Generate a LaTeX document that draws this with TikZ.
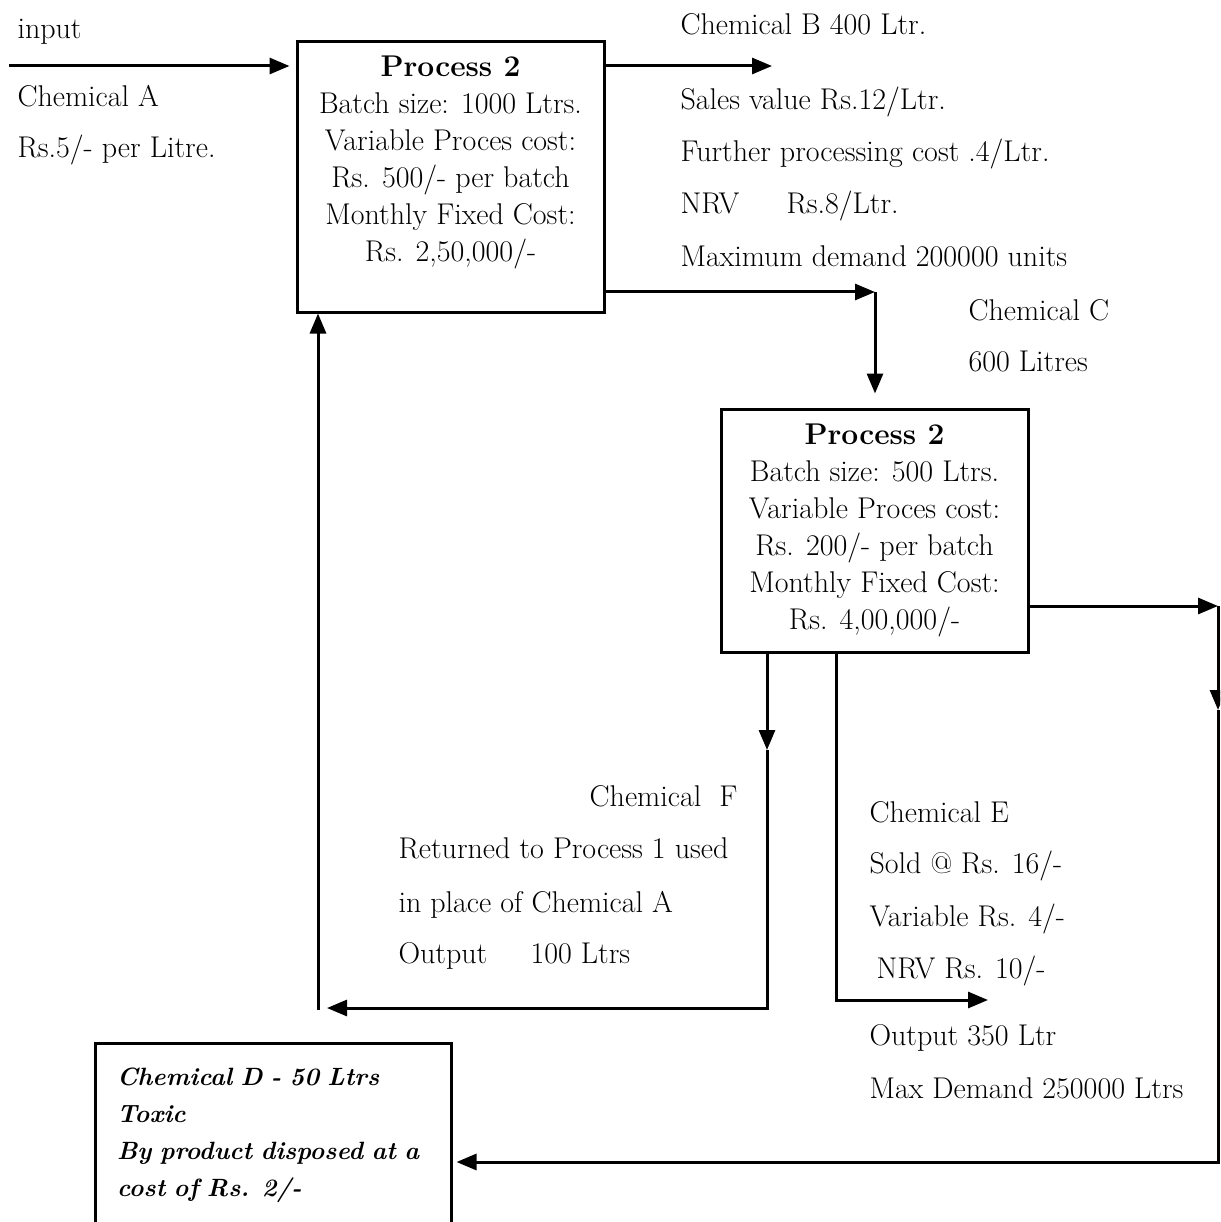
\documentclass[tikz,border=0pt]{standalone}
\usetikzlibrary{arrows.meta}
\begin{document}
\begin{tikzpicture}[x=1pt, y=-1pt, line width=3pt, font=\fontsize{30}{37}\selectfont,
        box/.style={draw, rectangle, inner sep=0pt, align=center},
        lbl/.style={anchor=base west, inner sep=0pt},
        flow/.style={-{Triangle[length=20pt, width=16pt]}}]
    \clip (0,0) rectangle (1220,1222);

    \node (ProcTop) [box, minimum width=307pt, minimum height=270pt] at(450.5,177) {\textbf{Process 2}\\Batch size: 1000 Ltrs.\\Variable Proces cost:\\Rs. 500/- per batch\\Monthly Fixed Cost:\\Rs. 2,50,000/-\\ \mbox{}};
    \node (ProcMid) [box, minimum width=307pt, minimum height=243pt] at(874.5,530.5) {\textbf{Process 2}\\Batch size: 500 Ltrs.\\Variable Proces cost:\\Rs. 200/- per batch\\Monthly Fixed Cost:\\Rs. 4,00,000/-};
    \node (Disposal) [box, align=left, text width=312pt, inner xsep=22pt, minimum height=184pt, font=\fontsize{25}{37}\selectfont\bfseries\itshape] at(273,1135) {Chemical D - 50 Ltrs\\Toxic\\By product disposed at a\\cost of Rs. 2/-};

    \node (Input) [lbl] at(16,39) {input};
    \node (ChemA) [lbl] at(16,107) {Chemical A};
    \node (RateA) [lbl] at(16,158) {Rs.5/- per Litre.};

    \node (ChemB) [lbl] at(679,35) {Chemical B 400 Ltr.};
    \node (SalesB) [lbl] at(679,110) {Sales value Rs.12/Ltr.};
    \node (FurtherB) [lbl] at(679,162) {Further processing cost .4/Ltr.};
    \node (NrvB) [lbl] at(679,214) {\makebox[106pt][l]{NRV}Rs.8/Ltr.};
    \node (DemandB) [lbl] at(679,267) {Maximum demand 200000 units};

    \node (ChemC) [lbl] at(967,320) {Chemical C};
    \node (LitresC) [lbl] at(967,371) {600 Litres};

    \node (ChemF) [lbl, anchor=base east] at(739,806) {Chemical\ \ F};
    \node (ReturnF) [lbl] at(397,858) {Returned to Process 1 used};
    \node (PlaceF) [lbl] at(397,912) {in place of Chemical A};
    \node (OutF) [lbl] at(397,963) {\makebox[132pt][l]{Output}100 Ltrs};

    \node (ChemE) [lbl] at(868,822) {Chemical E};
    \node (SoldE) [lbl] at(868,873) {Sold @ Rs. 16/-};
    \node (VarE) [lbl] at(868,926) {Variable Rs. 4/-};
    \node (NrvE) [lbl] at(875,978) {NRV Rs. 10/-};
    \node (OutE) [lbl] at(868,1045) {Output 350 Ltr};
    \node (DemandE) [lbl] at(868,1098) {Max Demand 250000 Ltrs};

    \coordinate (InStart) at (9,66);
    \coordinate (BEnd) at (772,66);
    \coordinate (CTurn) at (875,292);
    \coordinate (RTurn) at (1218,606);
    \coordinate (RMid) at (1218,710);
    \coordinate (DTurn) at (1218,1162);
    \coordinate (FMid) at (767,750);
    \coordinate (FTurn) at (767,1008);
    \coordinate (FEnd) at (327,1008);
    \coordinate (Back) at (318,1010);
    \coordinate (ETurn) at (836,1000);
    \coordinate (EEnd) at (988,1000);

    \draw[flow, shorten >=6pt] (InStart) -- (ProcTop.west |- InStart);
    \draw[flow] (ProcTop.east |- BEnd) -- (BEnd);
    \draw[flow] (ProcTop.east |- CTurn) -- (CTurn);
    \draw[flow, shorten >=14pt] (CTurn) -- (CTurn |- ProcMid.north);
    \draw[flow] (ProcMid.east |- RTurn) -- (RTurn);
    \draw[flow] (RTurn) -- (RMid);
    \draw[flow, shorten >=4pt] (RMid) -- (DTurn) -- (Disposal.east |- DTurn);
    \draw[flow] (ProcMid.south -| FMid) -- (FMid);
    \draw[flow] (FMid) -- (FTurn) -- (FEnd);
    \draw[flow] (Back) -- (Back |- ProcTop.south);
    \draw[flow] (ProcMid.south -| ETurn) -- (ETurn) -- (EEnd);
\end{tikzpicture}
\end{document}
